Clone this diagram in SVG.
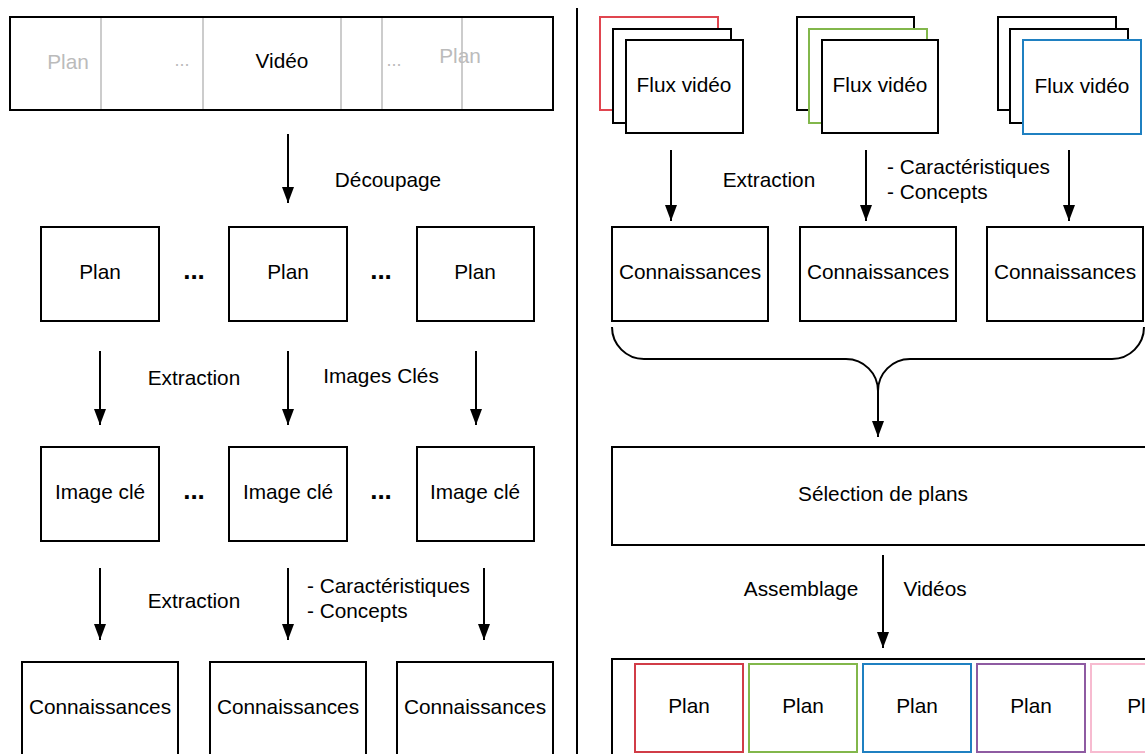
<svg xmlns="http://www.w3.org/2000/svg" width="1145" height="754" viewBox="0 0 1145 754">
<defs>
<marker id="ah" viewBox="0 0 16 12" refX="16" refY="6" markerWidth="16" markerHeight="12" markerUnits="userSpaceOnUse" orient="auto">
<path d="M0,0 L16,6 L0,12 Z" fill="#000"/>
</marker>
<style>
text{font-family:"Liberation Sans",Arial,sans-serif;font-size:20.8px;fill:#000;text-anchor:middle;dominant-baseline:central}
.box{fill:#fff;stroke:#000;stroke-width:2}
.gray{fill:#bbb}
.gdots{fill:#bbb;font-size:18px}
.dots{font-weight:bold;font-size:26px}
.lab{text-anchor:start}
.con{fill:none;stroke:#000;stroke-width:2}
</style>
</defs>
<rect width="1145" height="754" fill="#fff"/>

<!-- separator -->
<line x1="577" y1="8" x2="577" y2="754" stroke="#000" stroke-width="2"/>

<!-- LEFT -->
<g id="video">
<rect class="box" x="10" y="17" width="543" height="93"/>
<g stroke="#ccc" stroke-width="2">
<line x1="101" y1="18" x2="101" y2="109"/>
<line x1="203" y1="18" x2="203" y2="109"/>
<line x1="341" y1="18" x2="341" y2="109"/>
<line x1="382" y1="18" x2="382" y2="109"/>
<line x1="462" y1="18" x2="462" y2="109"/>
</g>
<text class="gray" x="68" y="61">Plan</text>
<text class="gdots" x="182" y="60">...</text>
<text x="282" y="60">Vidéo</text>
<text class="gdots" x="394" y="60">...</text>
<text class="gray" x="460" y="55">Plan</text>
</g>

<g id="plan1"><rect class="box" x="41" y="227" width="118" height="94"/><text x="100" y="271">Plan</text></g>
<g id="plan2"><rect class="box" x="229" y="227" width="118" height="94"/><text x="288" y="271">Plan</text></g>
<g id="plan3"><rect class="box" x="417" y="227" width="117" height="94"/><text x="475" y="271">Plan</text></g>
<text class="dots" x="194" y="270">...</text>
<text class="dots" x="381" y="270">...</text>

<g id="key1"><rect class="box" x="41" y="447" width="118" height="94"/><text x="100" y="491">Image clé</text></g>
<g id="key2"><rect class="box" x="229" y="447" width="118" height="94"/><text x="288" y="491">Image clé</text></g>
<g id="key3"><rect class="box" x="417" y="447" width="117" height="94"/><text x="475" y="491">Image clé</text></g>
<text class="dots" x="194" y="490">...</text>
<text class="dots" x="381" y="490">...</text>

<g id="connL1"><rect class="box" x="22" y="662" width="156" height="100"/><text x="100" y="706">Connaissances</text></g>
<g id="connL2"><rect class="box" x="210" y="662" width="156" height="100"/><text x="288" y="706">Connaissances</text></g>
<g id="connL3"><rect class="box" x="397" y="662" width="156" height="100"/><text x="475" y="706">Connaissances</text></g>

<!-- RIGHT -->
<g id="flux1">
<rect class="box" x="600" y="17" width="118" height="93" style="stroke:#e0454f"/>
<rect class="box" x="613" y="29" width="118" height="94"/>
<rect class="box" x="626" y="40" width="117" height="93"/>
<text x="684" y="84">Flux vidéo</text>
</g>
<g id="flux2">
<rect class="box" x="797" y="17" width="117" height="93"/>
<rect class="box" x="809" y="29" width="118" height="94" style="stroke:#82b74b"/>
<rect class="box" x="822" y="40" width="116" height="93"/>
<text x="880" y="84">Flux vidéo</text>
</g>
<g id="flux3">
<rect class="box" x="998" y="17" width="118" height="93"/>
<rect class="box" x="1010" y="29" width="118" height="94"/>
<rect class="box" x="1023" y="40" width="118" height="94" style="stroke:#1f80c1"/>
<text x="1082" y="85">Flux vidéo</text>
</g>

<g id="connR1"><rect class="box" x="612" y="227" width="156" height="94"/><text x="690" y="271">Connaissances</text></g>
<g id="connR2"><rect class="box" x="800" y="227" width="156" height="94"/><text x="878" y="271">Connaissances</text></g>
<g id="connR3"><rect class="box" x="987" y="227" width="156" height="94"/><text x="1065" y="271">Connaissances</text></g>

<g id="selection"><rect class="box" x="612" y="447" width="540" height="98"/><text x="883" y="493">Sélection de plans</text></g>

<g id="assembly">
<rect class="box" x="612" y="659" width="540" height="110"/>
<rect class="box" x="635" y="664" width="108" height="88" style="stroke:#d13c47"/><text x="689" y="705">Plan</text>
<rect class="box" x="749" y="664" width="108" height="88" style="stroke:#82b74b"/><text x="803" y="705">Plan</text>
<rect class="box" x="863" y="664" width="108" height="88" style="stroke:#1f80c1"/><text x="917" y="705">Plan</text>
<rect class="box" x="977" y="664" width="108" height="88" style="stroke:#8e5ba2"/><text x="1031" y="705">Plan</text>
<rect class="box" x="1091" y="664" width="108" height="88" style="stroke:#f7bbd0"/><text x="1148" y="705">Plan</text>
</g>

<!-- connectors -->
<g id="connectors">
<line class="con" x1="288" y1="134" x2="288" y2="203" marker-end="url(#ah)"/>
<line class="con" x1="100" y1="351" x2="100" y2="425" marker-end="url(#ah)"/>
<line class="con" x1="288" y1="351" x2="288" y2="425" marker-end="url(#ah)"/>
<line class="con" x1="476" y1="351" x2="476" y2="425" marker-end="url(#ah)"/>
<line class="con" x1="100" y1="568" x2="100" y2="640" marker-end="url(#ah)"/>
<line class="con" x1="288" y1="568" x2="288" y2="640" marker-end="url(#ah)"/>
<line class="con" x1="484" y1="568" x2="484" y2="640" marker-end="url(#ah)"/>
<line class="con" x1="671" y1="150" x2="671" y2="221" marker-end="url(#ah)"/>
<line class="con" x1="866" y1="150" x2="866" y2="221" marker-end="url(#ah)"/>
<line class="con" x1="1069" y1="150" x2="1069" y2="221" marker-end="url(#ah)"/>
<path class="con" d="M612,327 A32,32 0 0 0 644,359 L846,359 A32,32 0 0 1 878,391"/>
<path class="con" d="M1144,327 A32,32 0 0 1 1112,359 L910,359 A32,32 0 0 0 878,391"/>
<line class="con" x1="878" y1="390" x2="878" y2="437" marker-end="url(#ah)"/>
<line class="con" x1="883" y1="555" x2="883" y2="648" marker-end="url(#ah)"/>
</g>

<!-- labels -->
<text x="388" y="179">Découpage</text>
<text x="194" y="377">Extraction</text>
<text x="381" y="375">Images Clés</text>
<text x="194" y="600">Extraction</text>
<text class="lab" x="307" y="585">- Caractéristiques</text>
<text class="lab" x="307" y="610">- Concepts</text>
<text x="769" y="179">Extraction</text>
<text class="lab" x="887" y="166">- Caractéristiques</text>
<text class="lab" x="887" y="191">- Concepts</text>
<text x="801" y="588">Assemblage</text>
<text x="935" y="588">Vidéos</text>
</svg>
